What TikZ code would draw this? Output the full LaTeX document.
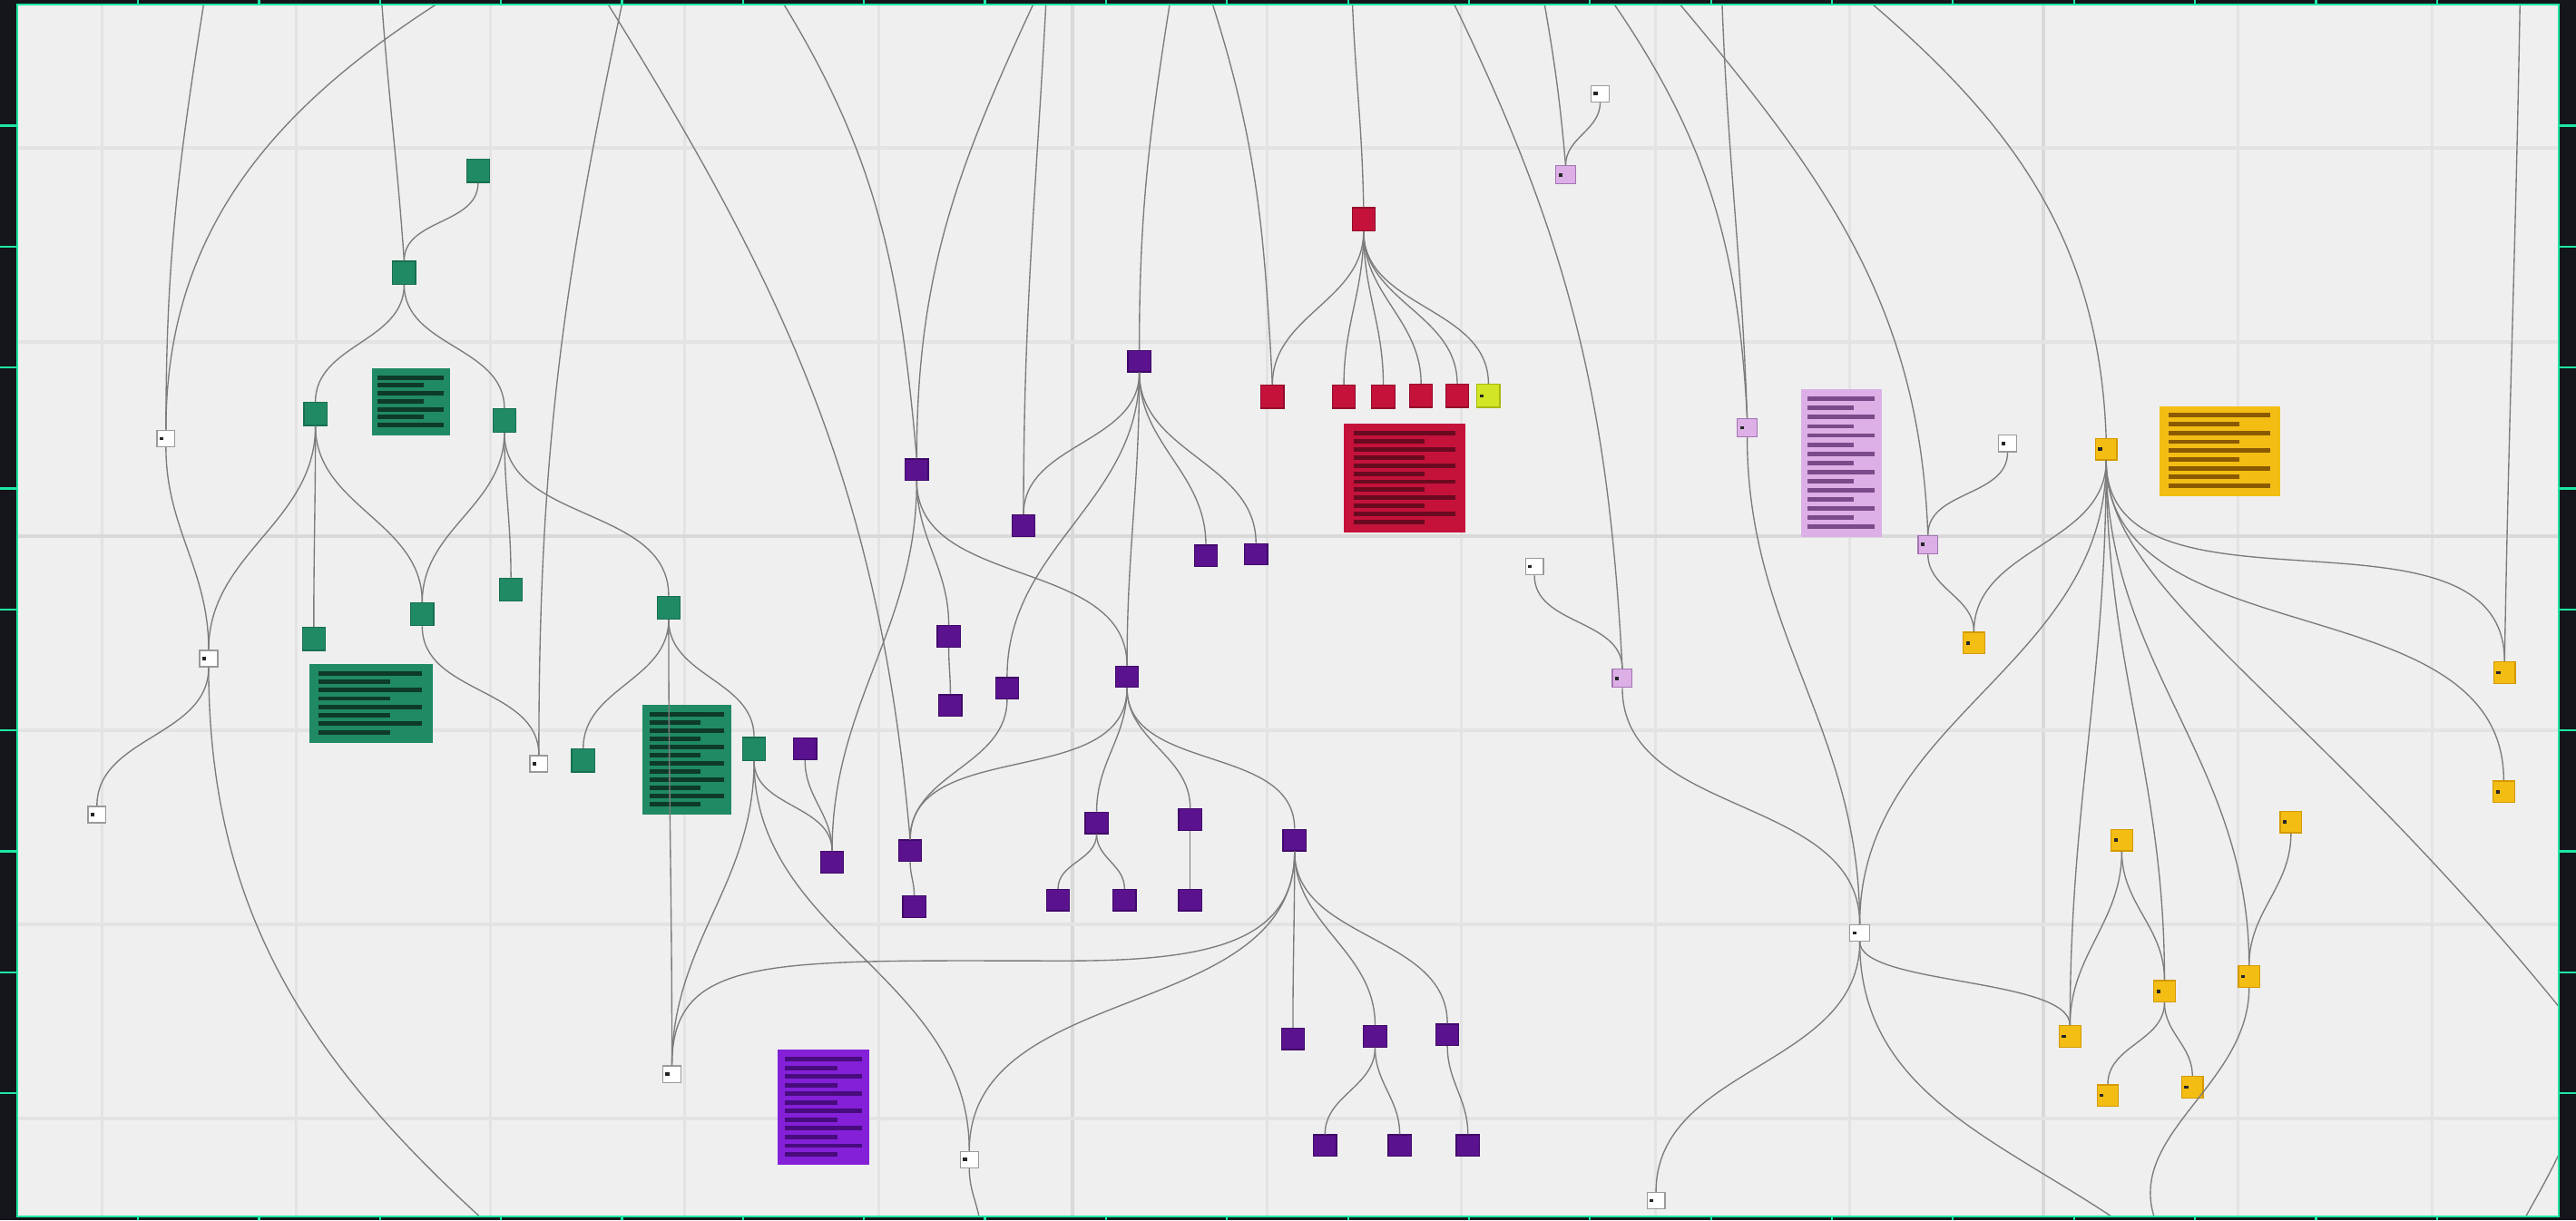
\documentclass[tikz,border=0pt]{standalone}
\usepackage{tikz}
\definecolor{bgc}{HTML}{EFEFEF}
\definecolor{gridc}{HTML}{E3E3E3}
\definecolor{gridd}{HTML}{D9D9D9}
\definecolor{framec}{HTML}{14161B}
\definecolor{tickc}{HTML}{1DE8A3}
\definecolor{edgec}{HTML}{7C7C7C}
\definecolor{gfill}{HTML}{208A64}
\definecolor{gdraw}{HTML}{16704F}
\definecolor{gstripe}{HTML}{0E3A2A}
\definecolor{pfill}{HTML}{5B128E}
\definecolor{pdraw}{HTML}{40096A}
\definecolor{pbfill}{HTML}{8420D8}
\definecolor{pstripe}{HTML}{480C7E}
\definecolor{rfill}{HTML}{C4123B}
\definecolor{rdraw}{HTML}{930A2A}
\definecolor{rstripe}{HTML}{6A0A20}
\definecolor{limefill}{HTML}{D2E625}
\definecolor{limedraw}{HTML}{A8B810}
\definecolor{lfill}{HTML}{DCB0E6}
\definecolor{ldraw}{HTML}{A474B4}
\definecolor{lstripe}{HTML}{7A4A8A}
\definecolor{yfill}{HTML}{F3BD14}
\definecolor{ydraw}{HTML}{D49A00}
\definecolor{ystripe}{HTML}{8A5A00}
\definecolor{wdraw}{HTML}{9A9A9A}
\tikzset{
  lnk/.style={draw=edgec, line width=0.75pt},
  nd/.style={rectangle, inner sep=0pt, line width=0.7pt},
  mk/.style={path picture={\fill[black!85] ([xshift=1.6pt,yshift=-1pt]path picture bounding box.west) rectangle ++(2.4pt,2pt);}},
  gn/.style={nd, fill=gfill, draw=gdraw, minimum width=14pt, minimum height=14pt},
  pn/.style={nd, fill=pfill, draw=pdraw, minimum width=14pt, minimum height=13pt},
  rn/.style={nd, fill=rfill, draw=rdraw, minimum size=14pt},
  limen/.style={nd, fill=limefill, draw=limedraw, minimum size=14pt, mk},
  ln/.style={nd, fill=lfill, draw=ldraw, minimum width=12pt, minimum height=11pt, mk},
  yn/.style={nd, fill=yfill, draw=ydraw, minimum size=13pt, mk},
  wn/.style={nd, fill=white, draw=wdraw, minimum width=11pt, minimum height=10pt, mk},
  tb/.style={rectangle, inner sep=0pt, anchor=north west}
}
\newcommand\tblk[8]{%
  \node[tb, fill=#7, minimum width={#4-#2}, minimum height={#5-#3}] (#1) at (#2,-#3) {};
  \foreach \i in {1,...,#6}{%
    \pgfmathsetmacro\tbsy{#3+4.5+(\i-1)*(#5-#3-12)/(#6-1)}%
    \pgfmathsetmacro\tbsx{ifthenelse(mod(\i,2)==1,0.92,0.66)}%
    \fill[#8] ({#2+0.08*(#4-#2)},{-\tbsy}) rectangle ({#2+\tbsx*(#4-#2)},{-\tbsy-2.7});
  }%
}
\begin{document}
\begin{tikzpicture}[x=1pt,y=1pt]
\useasboundingbox (0,0) rectangle (1568,-743);
\fill[framec] (0,0) rectangle (1568,-743);
\fill[bgc] (10.35,-2.8) rectangle (1557.5,-740.5);
\begin{scope}
\clip (10.35,-2.8) rectangle (1557.5,-740.5);
% grid
\foreach \gx in {62,180.2,298.4,416.6,534.8,771.2,889.4,1007.6,1125.8,1362.2,1480.4}
  \draw[gridc, line width=1.8pt] (\gx,0) -- (\gx,-743);
\foreach \gx in {653,1244}
  \draw[gridd, line width=2.2pt] (\gx,0) -- (\gx,-743);
\foreach \gy in {90,208.2,444.6,562.8,681}
  \draw[gridc, line width=1.8pt] (0,-\gy) -- (1568,-\gy);
\draw[gridd, line width=2.4pt] (0,-326.4) -- (1568,-326.4);

% text blocks
\tblk{tg1}{226}{224}{274}{265}{7}{gfill}{gstripe}
\tblk{tg2}{188}{404}{263}{452}{8}{gfill}{gstripe}
\tblk{tg3}{391}{429}{445}{496}{12}{gfill}{gstripe}
\tblk{tp1}{473}{639}{529}{709}{12}{pbfill}{pstripe}
\tblk{tr1}{818}{258}{892}{324}{12}{rfill}{rstripe}
\tblk{tl1}{1096}{237}{1145}{327}{15}{lfill}{lstripe}
\tblk{ty1}{1314}{247}{1388}{302}{9}{yfill}{ystripe}

% green nodes
\node[gn] (g1) at (291,-104) {};
\node[gn] (g2) at (246,-166) {};
\node[gn] (g3) at (192,-252) {};
\node[gn] (g4) at (307,-256) {};
\node[gn] (g5) at (191,-389) {};
\node[gn] (g6) at (257,-374) {};
\node[gn] (g7) at (311,-359) {};
\node[gn] (g8) at (407,-370) {};
\node[gn] (g9) at (355,-463) {};
\node[gn] (g10) at (459,-456) {};
% white nodes
\node[wn] (w1) at (101,-267) {};
\node[wn] (w2) at (127,-401) {};
\node[wn] (w3) at (59,-496) {};
\node[wn] (w4) at (328,-465) {};
\node[wn] (w5) at (409,-654) {};
\node[wn] (w6) at (590,-706) {};
\node[wn] (w7) at (974,-57) {};
\node[wn] (w8) at (1222,-270) {};
\node[wn] (w9) at (934,-345) {};
\node[wn, minimum width=12pt] (w10) at (1132,-568) {};
\node[wn] (w11) at (1008,-731) {};
% purple nodes
\node[pn] (p1) at (558,-286) {};
\node[pn] (p2) at (693.5,-220) {};
\node[pn] (p3) at (623,-320) {};
\node[pn] (p4) at (734,-338.5) {};
\node[pn] (p5) at (764.5,-337.5) {};
\node[pn] (p6) at (577.5,-387.5) {};
\node[pn] (p7) at (578.5,-429.5) {};
\node[pn] (p8) at (613,-419) {};
\node[pn] (p9) at (686,-412) {};
\node[pn] (p10) at (490,-456) {};
\node[pn] (p11) at (506.5,-525) {};
\node[pn] (p12) at (554,-518) {};
\node[pn] (p13) at (556.5,-552) {};
\node[pn] (p14) at (667.5,-501) {};
\node[pn] (p15) at (724.5,-499) {};
\node[pn] (p16) at (644,-548) {};
\node[pn] (p17) at (684.5,-548) {};
\node[pn] (p18) at (724.5,-548) {};
\node[pn] (p19) at (788,-511.5) {};
\node[pn] (p20) at (787,-632.5) {};
\node[pn] (p21) at (837,-631) {};
\node[pn] (p22) at (881,-630) {};
\node[pn] (p23) at (806.5,-697.5) {};
\node[pn] (p24) at (852,-697.5) {};
\node[pn] (p25) at (893.5,-697.5) {};
% red nodes
\node[rn] (r1) at (830,-133.5) {};
\node[rn] (r2) at (774.5,-241.5) {};
\node[rn] (r3) at (818,-241.5) {};
\node[rn] (r4) at (842,-241.5) {};
\node[rn] (r5) at (865,-241) {};
\node[rn] (r6) at (887,-241) {};
\node[limen] (y1) at (906,-241) {};
% lavender nodes
\node[ln] (l1) at (953,-106.5) {};
\node[ln] (l2) at (1063.5,-260.5) {};
\node[ln] (l3) at (1173.5,-331.5) {};
\node[ln] (l4) at (987.5,-413) {};
% yellow nodes
\node[yn] (y2) at (1282,-273.5) {};
\node[yn] (y3) at (1201.5,-391.5) {};
\node[yn] (y4) at (1524.5,-409.5) {};
\node[yn] (y5) at (1524,-482) {};
\node[yn] (y6) at (1291.5,-511.5) {};
\node[yn] (y7) at (1394.5,-500.5) {};
\node[yn] (y8) at (1317.5,-603.5) {};
\node[yn] (y9) at (1369,-594.5) {};
\node[yn] (y10) at (1260,-631) {};
\node[yn] (y11) at (1283,-667) {};
\node[yn] (y12) at (1334.5,-662) {};

% free ends above and below
\coordinate (t125) at (125,4);
\coordinate (t232) at (232,4);
\coordinate (t272) at (276,4);
\coordinate (t368) at (366,4);
\coordinate (t379) at (380,4);
\coordinate (t475) at (473,4);
\coordinate (t631) at (632,4);
\coordinate (t637) at (637,4);
\coordinate (t712) at (713,4);
\coordinate (t737) at (736,4);
\coordinate (t823) at (823,4);
\coordinate (t883) at (882,4);
\coordinate (t940) at (939,4);
\coordinate (t979) at (978,4);
\coordinate (t1018) at (1017,4);
\coordinate (t1048) at (1048,4);
\coordinate (t1133) at (1132,4);
\coordinate (t1535) at (1534,4);
\coordinate (b295) at (300,-748);
\coordinate (b597) at (597,-748);
\coordinate (b1290) at (1296,-748);
\coordinate (b1318) at (1314,-748);
\coordinate (r611) at (1556,-611);
\coordinate (b1537) at (1535,-745);

% edges from above
\draw[lnk] (t125) to[out=-99,in=90] (w1.north);
\draw[lnk] (t272) to[out=-148,in=90] (w1.north);
\draw[lnk] (t232) to[out=-86,in=94] (g2.north);
\draw[lnk] (t368) to[out=-58,in=95] (p12.north);
\draw[lnk] (t379) to[out=-102,in=90] (w4.north);
\draw[lnk] (t475) to[out=-58,in=95] (p1.north);
\draw[lnk] (t631) to[out=-115,in=90] (p1.north);
\draw[lnk] (t637) to[out=-93,in=90] (p3.north);
\draw[lnk] (t712) to[out=-99,in=90] (p2.north);
\draw[lnk] (t737) to[out=-72,in=93] (r2.north);
\draw[lnk] (t823) to[out=-88,in=91] (r1.north);
\draw[lnk] (t883) to[out=-64,in=93] (l4.north);
\draw[lnk] (t940) to[out=-80,in=95] (l1.north);
\draw[lnk] (t979) to[out=-55,in=93] (l2.north);
\draw[lnk] (t1048) to[out=-88,in=92] (l2.north);
\draw[lnk] (t1018) to[out=-50,in=92] (l3.north);
\draw[lnk] (t1133) to[out=-40,in=92] (y2.north);
\draw[lnk] (t1535) to[out=-91,in=89] (y4.north);

% tree edges
\foreach \a/\b in {g1/g2,g2/g3,g2/g4,g3/g5,g3/g6,g3/w2,g4/g6,g4/g7,g4/g8,g6/w4,w1/w2,w2/w3,
  g8/g9,g8/w5,g8/g10,g10/w5,g10/p11,g10/w6,p10/p11,p1/p11,p1/p6,p1/p9,p6/p7,
  p2/p3,p2/p8,p2/p9,p2/p4,p2/p5,p8/p12,p9/p12,p12/p13,p9/p14,p9/p15,p9/p19,
  p14/p16,p14/p17,p15/p18,p19/p20,p19/p21,p19/p22,p19/w6,p21/p23,p21/p24,p22/p25,
  r1/r2,r1/r3,r1/r4,r1/r5,r1/r6,r1/y1,w7/l1,w8/l3,w9/l4,l2/w10,l4/w10,l3/y3,
  y2/y3,y2/w10,y2/y10,y2/y8,y2/y9,y2/y4,y2/y5,w10/w11,y6/y10,y6/y8,y7/y9,y8/y11,y8/y12}
  \draw[lnk] (\a.south) to[out=-90,in=90] (\b.north);

% special edges
\draw[lnk] (p19.south) .. controls (788,-572) and (740,-585) .. (650,-585)
  .. controls (470,-585) and (409,-580) .. (w5.north);
\draw[lnk] (w10.south) .. controls (1132,-600) and (1260,-595) .. (y10.north);
\draw[lnk] (y2.south) .. controls (1282,-360) and (1400,-420) .. (r611)
  .. controls (1590,-652) and (1560,-700) .. (b1537);
\draw[lnk] (w2.south) to[out=-90,in=138] (b295);
\draw[lnk] (w6.south) to[out=-90,in=95] (b597);
\draw[lnk] (w10.south) to[out=-90,in=145] (b1290);
\draw[lnk] (y9.south) to[out=-90,in=115] (b1318);
\end{scope}

% frame
\draw[tickc, line width=1.3pt] (10.35,-2.8) rectangle (1557.5,-740.5);
\foreach \k in {1,...,20}{
  \draw[tickc, line width=1.2pt] ({10.35+\k*73.65},0) -- ({10.35+\k*73.65},-2.8);
  \draw[tickc, line width=1.2pt] ({10.35+\k*73.65},-740.5) -- ({10.35+\k*73.65},-743);
}
\foreach \k in {1,...,9}{
  \draw[tickc, line width=1.2pt] (0,{-2.8-\k*73.65}) -- (10.35,{-2.8-\k*73.65});
  \draw[tickc, line width=1.2pt] (1557.5,{-2.8-\k*73.65}) -- (1568,{-2.8-\k*73.65});
}
\end{tikzpicture}
\end{document}
